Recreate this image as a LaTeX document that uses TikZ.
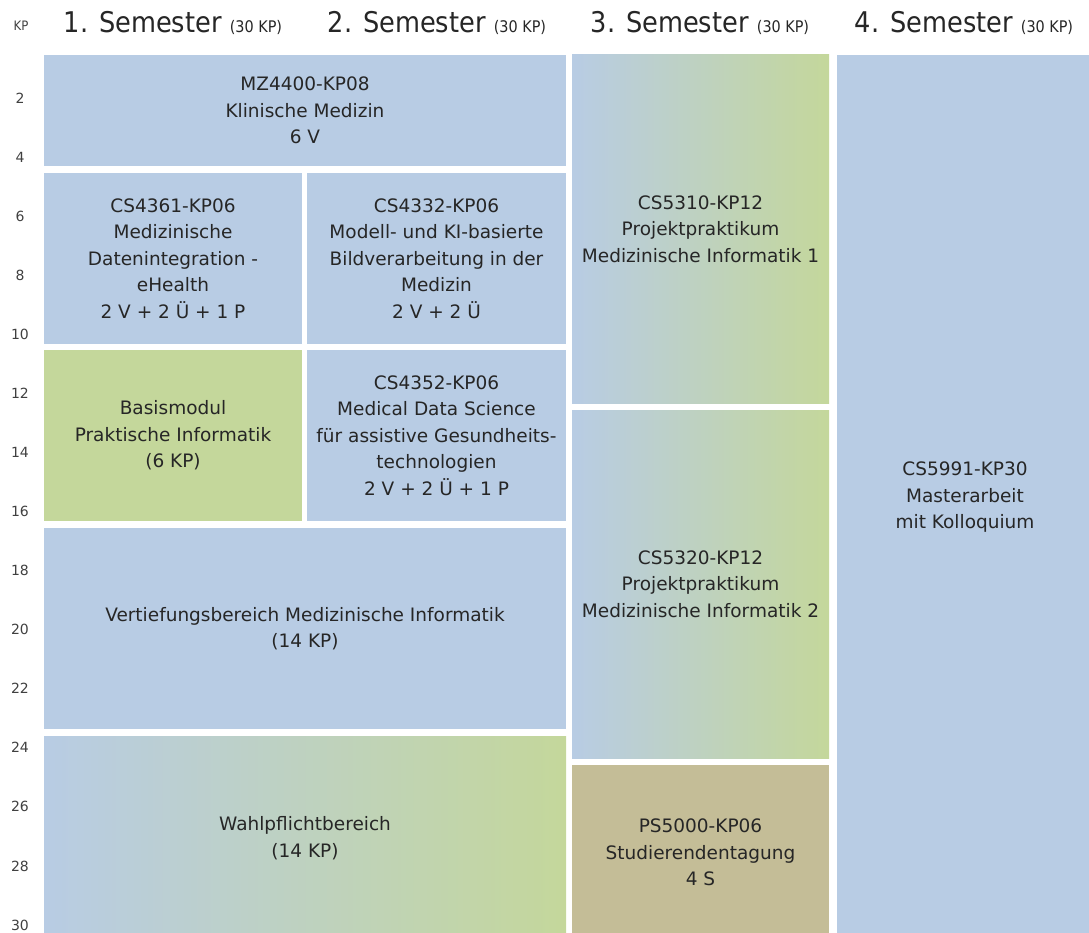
\documentclass[tikz,border=0pt]{standalone}
\usepackage{fontspec}
\setmainfont{DejaVu Sans}
\newfontfamily\kopffont{DejaVu Sans Condensed}

\definecolor{mblau}{HTML}{B8CCE4}
\definecolor{mgruen}{HTML}{C4D79B}
\definecolor{mbraun}{HTML}{C4BD97}
\definecolor{mtext}{HTML}{262626}

\begin{document}
\begin{tikzpicture}[x=1pt, y=-1pt,
        modul/.style={rectangle, inner sep=0pt, align=center, text=mtext,
            font=\fontsize{18.5}{26.5}\selectfont},
        blau/.style={modul, fill=mblau},
        gruen/.style={modul, fill=mgruen},
        braun/.style={modul, fill=mbraun},
        verlauf/.style={modul, left color=mblau, right color=mgruen},
        semkopf/.style={anchor=base, text=black!85, font=\kopffont\fontsize{28.5}{30}\selectfont},
        kplab/.style={text=black!75, font=\fontsize{14}{14}\selectfont}]
            \useasboundingbox (0, 0) rectangle (1089, 933);

            % Kopfzeile
            \node[kplab, font=\kopffont\fontsize{13}{13}\selectfont] (kp) at (21, 26) {KP};
            \node[semkopf] (sem1) at (173, 33) {1. Semester {\fontsize{16}{16}\selectfont (30 KP)}};
            \node[semkopf] (sem2) at (437, 33) {2. Semester {\fontsize{16}{16}\selectfont (30 KP)}};
            \node[semkopf] (sem3) at (700, 33) {3. Semester {\fontsize{16}{16}\selectfont (30 KP)}};
            \node[semkopf] (sem4) at (964, 33) {4. Semester {\fontsize{16}{16}\selectfont (30 KP)}};

            % KP-Skala
            \foreach \k in {1,...,15}{
                \pgfmathtruncatemacro{\kp}{2*\k}
                \node[kplab] (kp\k) at (20, {98 + (\k-1)*59.07}) {\kp};
            }

            % 1. und 2. Semester
            \node[blau, minimum width=522, minimum height=111] (mz4400) at (305, 110.5)
                {MZ4400-KP08\\Klinische Medizin\\6 V};
            \node[blau, minimum width=258, minimum height=171] (cs4361) at (173, 258.5)
                {CS4361-KP06\\Medizinische\\Datenintegration -\\eHealth\\2 V + 2 Ü + 1 P};
            \node[blau, minimum width=259, minimum height=171] (cs4332) at (436.5, 258.5)
                {CS4332-KP06\\Modell- und KI-basierte\\Bildverarbeitung in der\\Medizin\\2 V + 2 Ü};
            \node[gruen, minimum width=258, minimum height=171] (basis) at (173, 435.5)
                {Basismodul\\Praktische Informatik\\(6 KP)};
            \node[blau, minimum width=259, minimum height=171] (cs4352) at (436.5, 435.5)
                {CS4352-KP06\\Medical Data Science\\für assistive Gesundheits-\\technologien\\2 V + 2 Ü + 1 P};
            \node[blau, minimum width=522, minimum height=201] (vertief) at (305, 628.5)
                {Vertiefungsbereich Medizinische Informatik\\(14 KP)};
            \node[verlauf, minimum width=522, minimum height=204] (wahl) at (305, 838)
                {Wahlpflichtbereich\\(14 KP)};

            % 3. Semester
            \node[verlauf, minimum width=257, minimum height=348] (cs5310) at (700.5, 229)
                {CS5310-KP12\\Projektpraktikum\\Medizinische Informatik 1};
            \node[verlauf, minimum width=257, minimum height=348] (cs5320) at (700.5, 584)
                {CS5320-KP12\\Projektpraktikum\\Medizinische Informatik 2};
            \node[braun, minimum width=257, minimum height=175] (ps5000) at (700.5, 852.5)
                {PS5000-KP06\\Studierendentagung\\4 S};

            % 4. Semester
            \node[blau, minimum width=256, minimum height=885] (cs5991) at (965, 497.5)
                {CS5991-KP30\\Masterarbeit\\mit Kolloquium};
        \end{tikzpicture}
\end{document}
